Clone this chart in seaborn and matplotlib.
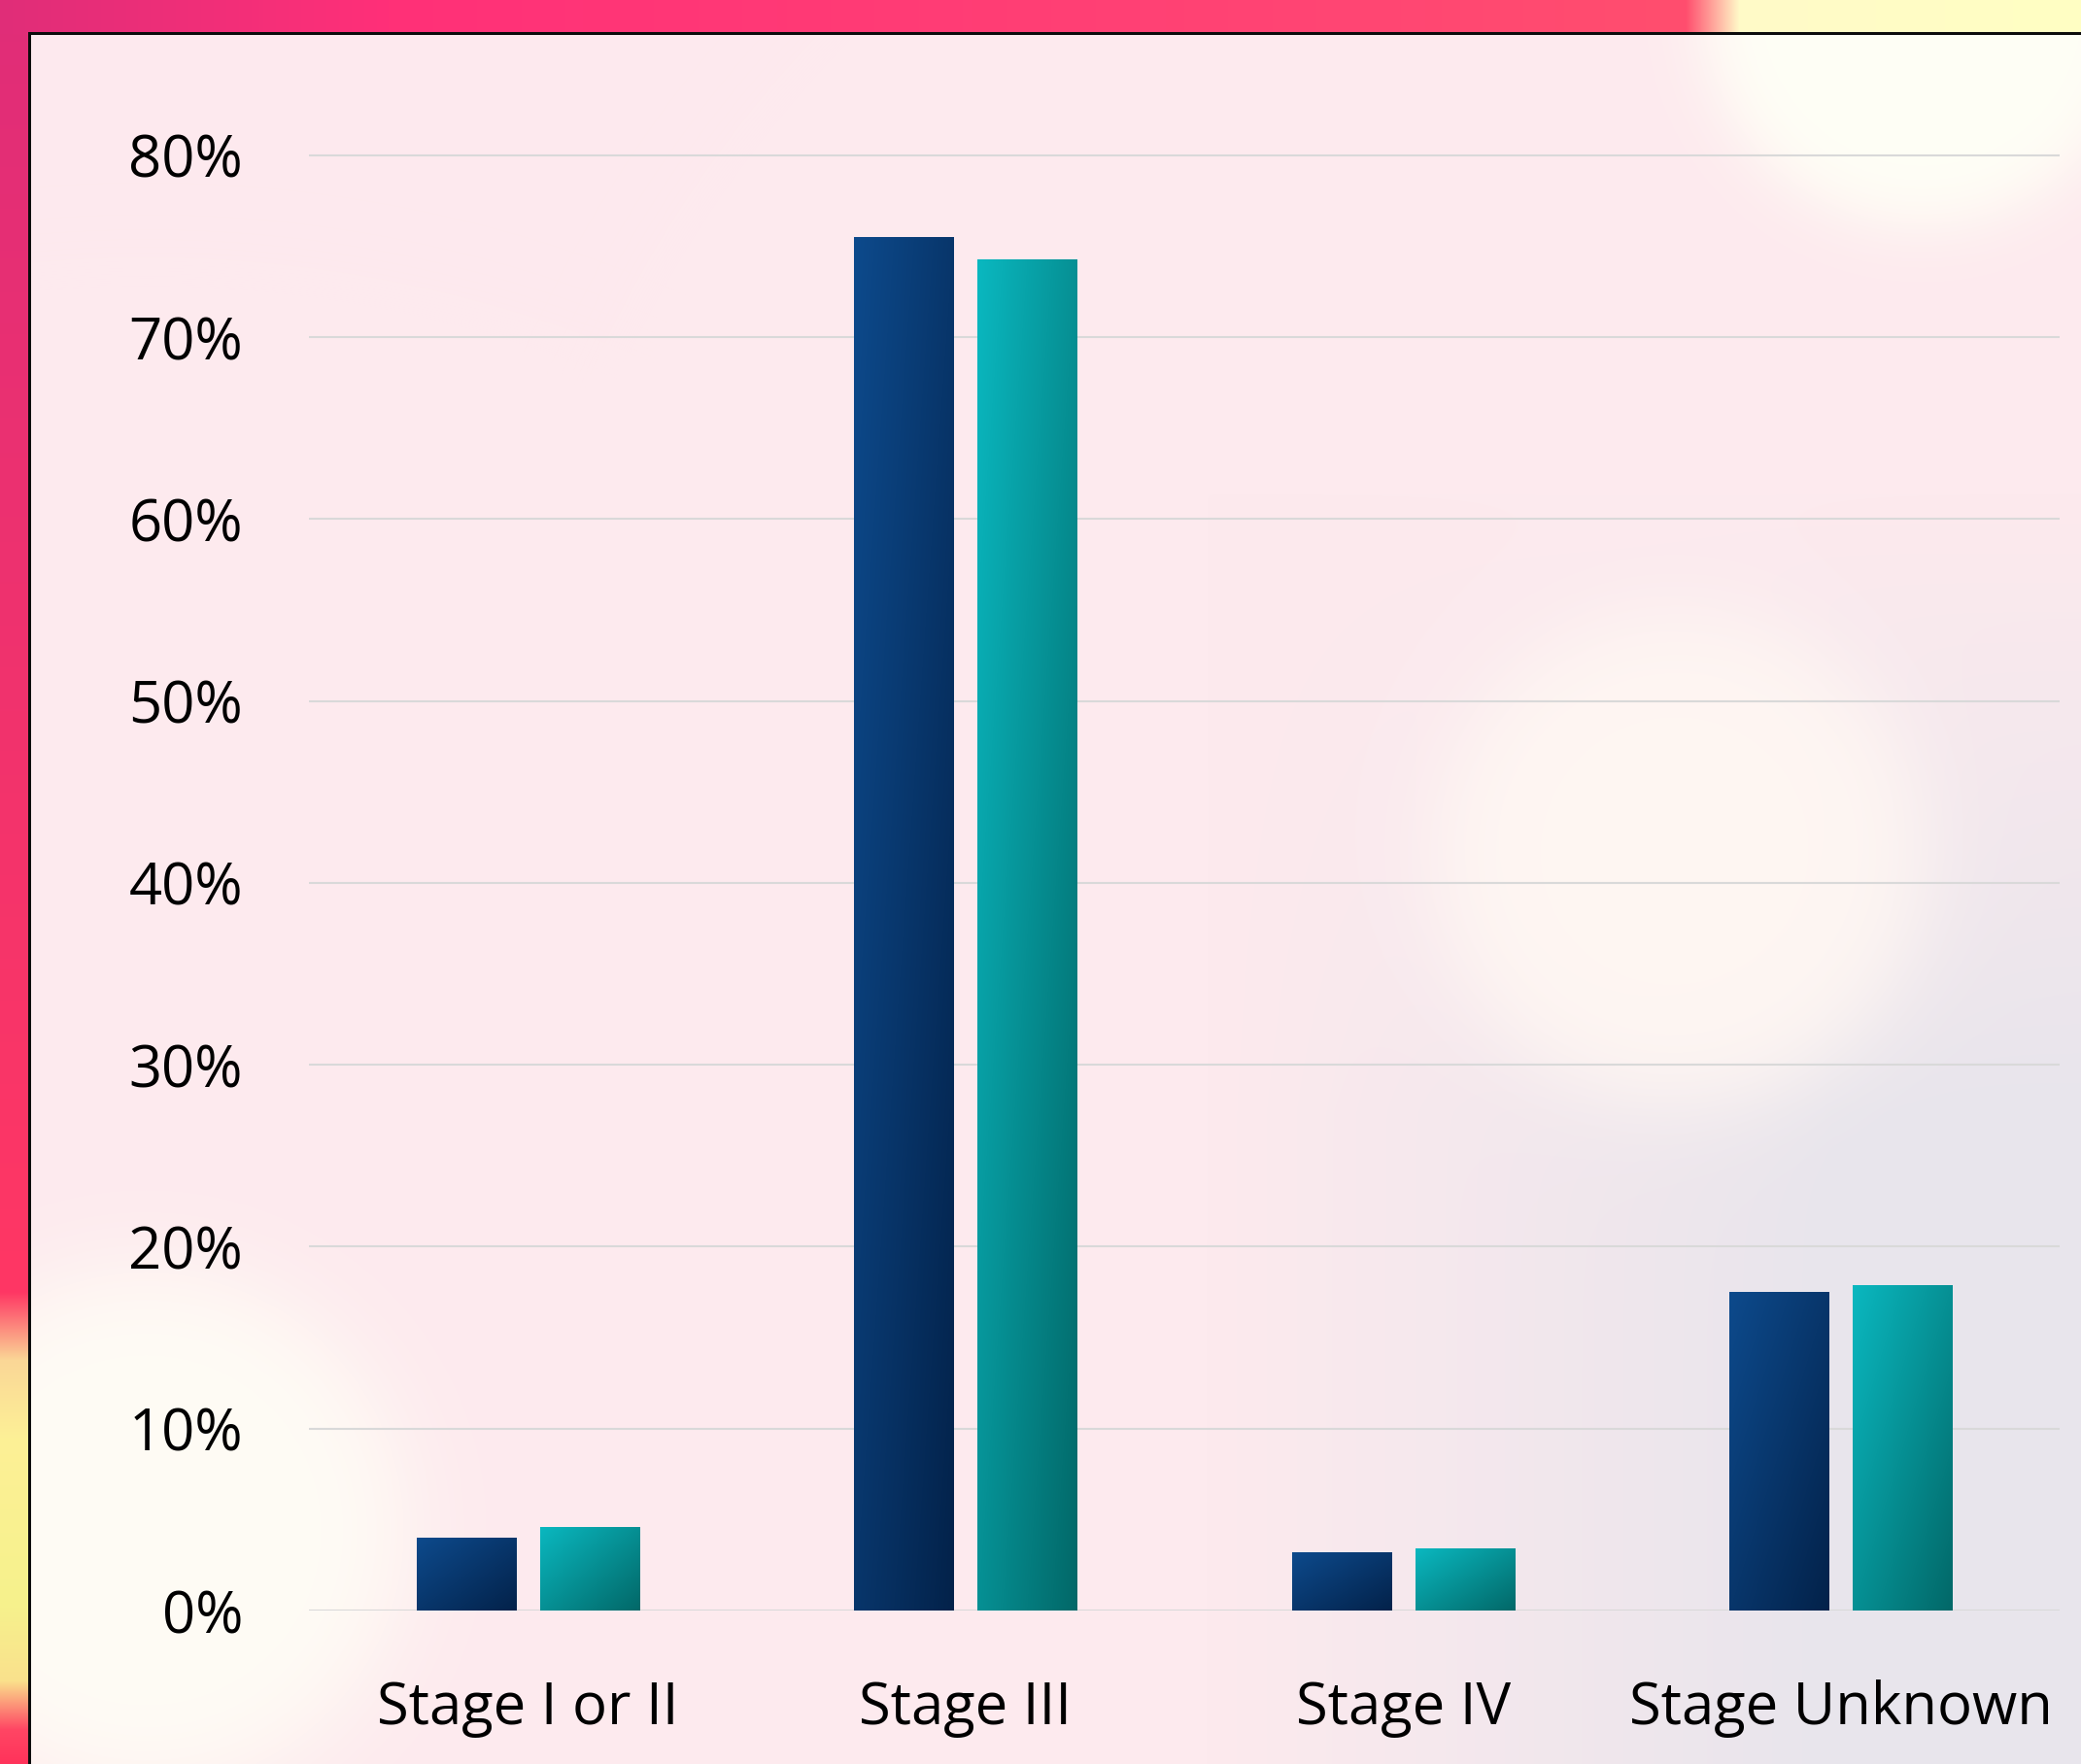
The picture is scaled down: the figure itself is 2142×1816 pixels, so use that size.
import numpy as np
import pandas as pd
import matplotlib
matplotlib.use("Agg")
import matplotlib.pyplot as plt
import seaborn as sns

# Step 1: Data

stages = ["Stage I or II", "Stage III", "Stage IV", "Stage Unknown"]
series_names = ["Group 1", "Group 2"]
group_1 = [4.0, 75.5, 3.2, 17.5]
group_2 = [4.6, 74.3, 3.4, 17.9]
y_ticks = [0, 10, 20, 30, 40, 50, 60, 70, 80]
y_tick_labels = [f"{t}%" for t in y_ticks]

df = pd.DataFrame({
    "stage": stages * 2,
    "group": [series_names[0]] * len(stages) + [series_names[1]] * len(stages),
    "share": group_1 + group_2,
})

#########################################

# Step 2: Style

sns.set_style("white")
plt.rcParams["font.family"] = ["Open Sans", "DejaVu Sans"]

W, H = 2142, 1816
fig = plt.figure(figsize=(W / 100, H / 100), dpi=100)

#########################################

# Step 3: Background (pink frame + soft bokeh panel)


def interp_stops(pos, stops):
    xs = np.array([s[0] for s in stops], dtype=float)
    out = np.zeros(pos.shape + (3,))
    for c in range(3):
        out[..., c] = np.interp(pos, xs, [s[1][c] for s in stops])
    return out / 255.0


def soft_disc(xx, yy, cx, cy, r, soft):
    d = np.sqrt((xx - cx) ** 2 + (yy - cy) ** 2)
    return 1.0 / (1.0 + np.exp((d - r) / soft))


yy, xx = np.mgrid[0:H, 0:W].astype(float)
panel_left, panel_top = 32, 36

base = np.array([253, 234, 238]) / 255.0
lavender = np.array([232, 229, 236]) / 255.0
w_grey = np.clip((xx / W - 0.58) / 0.3, 0, 1) * np.clip((yy / H - 0.28) / 0.35, 0, 1)
bg = base * (1 - w_grey[..., None]) + lavender * w_grey[..., None]

# soft bokeh discs
for cx, cy, r, soft, col, strength in [
    (1978, 5, 225, 20, (255, 255, 246), 1.0),
    (1728, 882, 252, 28, (255, 247, 243), 0.95),
    (150, 1575, 265, 30, (255, 252, 245), 1.0),
]:
    a = soft_disc(xx, yy, cx, cy, r, soft)[..., None] * strength
    bg = bg * (1 - a) + (np.array(col) / 255.0) * a

top_strip = interp_stops(xx[0], [
    (0, (224, 45, 120)), (400, (255, 48, 120)), (1400, (255, 70, 115)),
    (1735, (255, 78, 110)), (1790, (255, 250, 200)), (2142, (255, 255, 195)),
])
left_strip = interp_stops(yy[:, 0], [
    (0, (224, 45, 120)), (1330, (255, 55, 100)), (1400, (250, 215, 150)),
    (1480, (253, 240, 150)), (1650, (246, 242, 140)), (1730, (250, 225, 140)),
    (1780, (255, 70, 100)), (1816, (255, 50, 90)),
])
bg[:, :panel_left, :] = left_strip[:, None, :]
bg[:panel_top, :, :] = top_strip[None, :, :]
bg[panel_top - 3:panel_top, panel_left - 3:, :] = 0.05
bg[panel_top - 3:, panel_left - 3:panel_left, :] = 0.05

bg_ax = fig.add_axes([0, 0, 1, 1], zorder=-10)
bg_ax.imshow(bg, interpolation="bilinear", aspect="auto")
bg_ax.set_axis_off()

#########################################

# Step 4: Bar chart

ax = fig.add_axes([0.1485, 0.087, 0.8412, 0.8353])
ax.patch.set_alpha(0)

blue_dark, teal_dark = "#0b3f7a", "#07999f"
sns.barplot(data=df, x="stage", y="share", hue="group",
            palette=[blue_dark, teal_dark], width=0.564, gap=0.195,
            linewidth=0, errorbar=None, legend=False, ax=ax)

# gradient fills: light top-left to dark bottom-right
grad_stops = [
    (np.array([13, 74, 140]), np.array([3, 34, 74])),
    (np.array([10, 184, 192]), np.array([2, 104, 104])),
]
gy, gx = np.mgrid[0:200, 0:60]
t = (gx / 59.0 + gy / 199.0) / 2.0
for i, bar in enumerate(ax.patches):
    c0, c1 = grad_stops[i // len(stages)]
    img = (c0[None, None, :] * (1 - t[..., None]) + c1[None, None, :] * t[..., None]) / 255.0
    x0, w, h = bar.get_x(), bar.get_width(), bar.get_height()
    im = ax.imshow(img, extent=[x0, x0 + w, 0, h], origin="upper",
                   aspect="auto", interpolation="bilinear", zorder=3)
    im.set_clip_path(bar)

ax.set_xlim(-0.5, 3.5)
ax.set_ylim(0, 81)
ax.set_yticks(y_ticks)
ax.set_yticklabels(y_tick_labels)
ax.set_xlabel("")
ax.set_ylabel("")
ax.yaxis.grid(True, color="#d9d9d9", linewidth=1.5)
ax.xaxis.grid(False)
ax.set_axisbelow(True)
sns.despine(ax=ax, left=True, bottom=True)
ax.tick_params(axis="y", length=0, labelsize=43, pad=49, labelcolor="black")
ax.tick_params(axis="x", length=0, labelsize=43, pad=51, labelcolor="black")

plt.savefig("out.png", dpi=100)
